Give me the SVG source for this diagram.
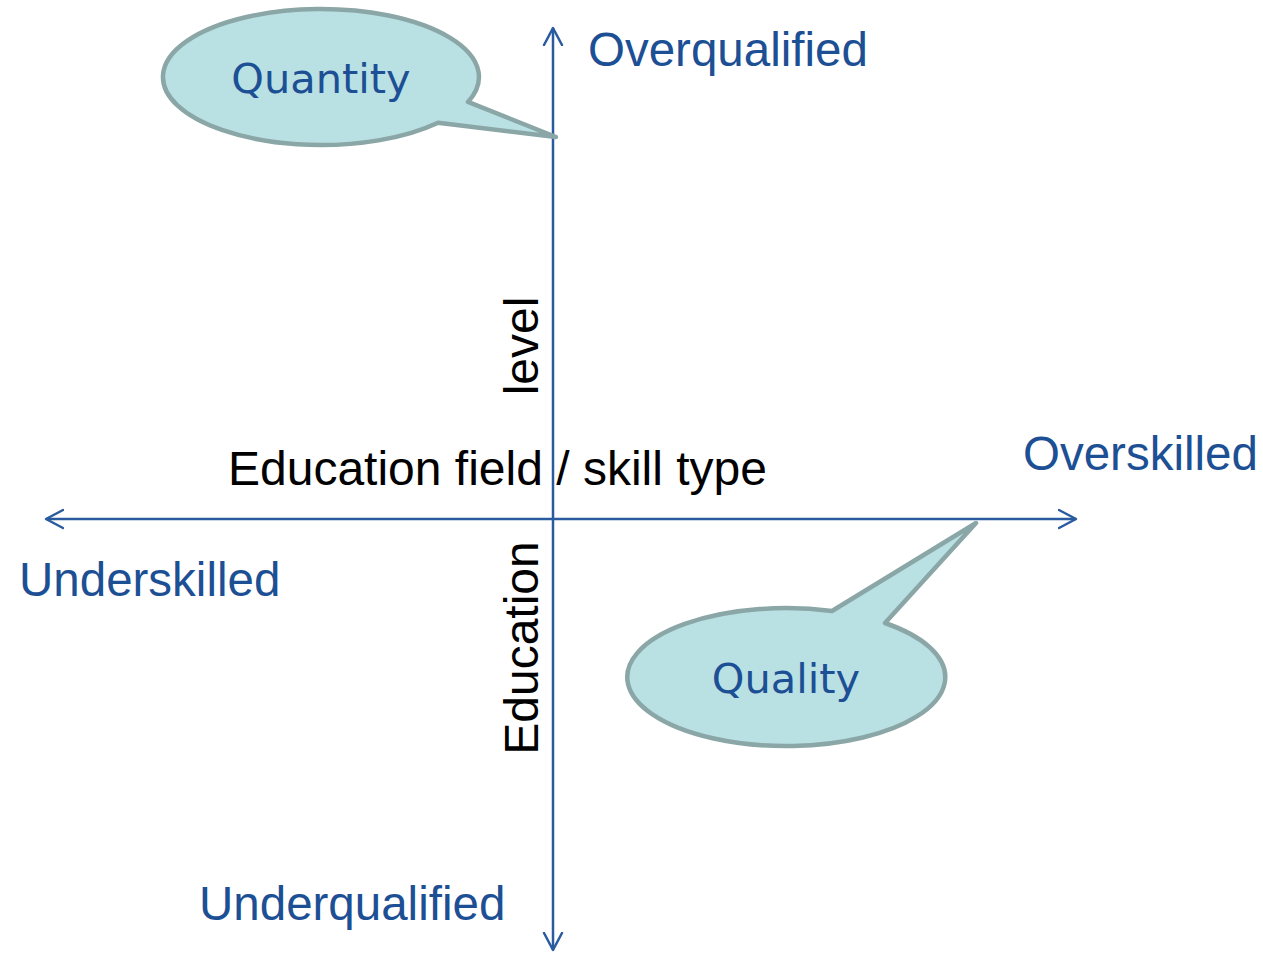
<svg xmlns="http://www.w3.org/2000/svg" width="1263" height="953" viewBox="0 0 1263 953">
  <style>
    .axis { stroke: #2a5b9f; stroke-width: 2.5; fill: none; }
    .pole { font-family: "Liberation Sans", Arial, sans-serif; font-size: 47.5px; fill: #1c4f94; }
    .dim { font-family: "Liberation Sans", Arial, sans-serif; font-size: 48px; fill: #000000; }
    .bubble { fill: #b9e0e3; stroke: #8ba6a6; stroke-width: 4.5; stroke-linejoin: round; }
    .bubble-text { font-family: "DejaVu Sans", Verdana, sans-serif; font-size: 41.5px; fill: #1c4f94; text-anchor: middle; }
  </style>
  <defs>
    <marker id="chevron" viewBox="0 0 20 22" refX="18" refY="11" markerWidth="20" markerHeight="22" markerUnits="userSpaceOnUse" orient="auto-start-reverse">
      <path d="M1,2 L18,11 L1,20" fill="none" stroke="#2a5b9f" stroke-width="2.5" stroke-linecap="round" stroke-linejoin="round"/>
    </marker>
  </defs>

  <rect width="1263" height="953" fill="#ffffff"/>

  <!-- axes -->
  <g id="connectors">
    <line class="axis" x1="553" y1="950" x2="553" y2="28" marker-start="url(#chevron)" marker-end="url(#chevron)"/>
    <line class="axis" x1="46" y1="519" x2="1076" y2="519" marker-start="url(#chevron)" marker-end="url(#chevron)"/>
  </g>

  <!-- axis end labels -->
  <g id="overqualified"><text class="pole" x="588" y="66">Overqualified</text></g>
  <g id="underqualified"><text class="pole" x="199" y="920">Underqualified</text></g>
  <g id="overskilled"><text class="pole" x="1023" y="470">Overskilled</text></g>
  <g id="underskilled"><text class="pole" x="19" y="596">Underskilled</text></g>

  <!-- dimension labels -->
  <g id="field-label"><text class="dim" x="228" y="485">Education field / skill type</text></g>
  <g id="level-label"><text class="dim" transform="translate(538,346) rotate(-90)" text-anchor="middle">level</text></g>
  <g id="education-label"><text class="dim" transform="translate(538,648) rotate(-90)" text-anchor="middle">Education</text></g>

  <!-- callouts -->
  <g id="quantity">
    <path class="bubble" d="M468,101.9 A158,68 0 1 0 438,122.7 L556,137 Z"/>
    <text class="bubble-text" x="321" y="93">Quantity</text>
  </g>
  <g id="quality">
    <path class="bubble" d="M832,611 A159,69 0 1 0 885,623 L976,523 Z"/>
    <text class="bubble-text" x="786" y="693">Quality</text>
  </g>
</svg>
